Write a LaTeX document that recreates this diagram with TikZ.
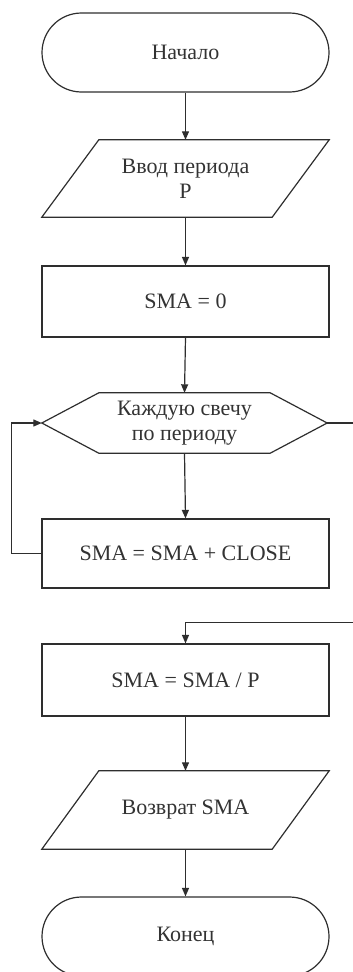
\documentclass[tikz,border=0pt]{standalone}
\usepackage{fontspec}
\setmainfont{Liberation Serif}
\usetikzlibrary{arrows.meta,calc}

\begin{document}
\begin{tikzpicture}[x=1pt,y=-1pt,
  ink/.style={draw=black!82, line width=1.2pt},
  txt/.style={text=black!80, font=\fontsize{22}{25}\selectfont, align=center, inner sep=0pt},
  terminal/.style={ink, txt, rounded corners=39.5pt, minimum width=287pt, minimum height=79pt},
  procbox/.style={ink, txt, minimum width=287pt},
  frame/.style={txt, draw=none, minimum width=287pt},
  flow/.style={ink, -{Triangle[length=8.5pt,width=7pt]}}
]
\useasboundingbox (0,0) rectangle (353,972);

% blocks
\node[terminal] (start) at (185.5,52.5) {Начало};
\node[frame, minimum height=77pt] (input) at (185.5,178.5) {Ввод периода\\P};
\node[procbox, minimum height=71pt] (init) at (185.5,301.5) {SMA = 0};
\node[frame, minimum width=285pt, minimum height=60pt] (loop) at (184.5,423) {Каждую свечу\\по периоду};
\node[procbox, minimum height=69pt] (acc) at (185.5,553.5) {SMA = SMA + CLOSE};
\node[procbox, minimum height=72pt] (div) at (185.5,680) {SMA = SMA / P};
\node[frame, minimum height=78pt] (output) at (185.5,810) {Возврат SMA};
\node[terminal] (stop) at (185.5,936.5) {Конец};

% data (parallelogram) outlines
\draw[ink] (input.south west) -- ($(input.north west)+(57,0)$) -- (input.north east)
  -- ($(input.south east)+(-57,0)$) -- cycle;
\draw[ink] (output.south west) -- ($(output.north west)+(57,0)$) -- (output.north east)
  -- ($(output.south east)+(-57,0)$) -- cycle;

% loop limit (hexagon) outline
\draw[ink] (loop.west) -- ($(loop.north west)+(57,0)$) -- ($(loop.north east)+(-57,0)$)
  -- (loop.east) -- ($(loop.south east)+(-57,0)$) -- ($(loop.south west)+(57,0)$) -- cycle;

% connectors
\coordinate (join) at ($(div.north)+(0,-21)$);
\draw[flow] (start.south) -- (input.north);
\draw[flow] (input.south) -- (init.north);
\draw[flow] (init.south) -- (loop.north);
\draw[flow] (loop.south) -- (acc.north);
\draw[flow] (acc.west) -- ++(-30,0) |- (loop.west);
\draw[ink] (loop.east) -- ++(36,0) |- (join);
\draw[flow] (join) -- (div.north);
\draw[flow] (div.south) -- (output.north);
\draw[flow] (output.south) -- (stop.north);
\end{tikzpicture}
\end{document}
